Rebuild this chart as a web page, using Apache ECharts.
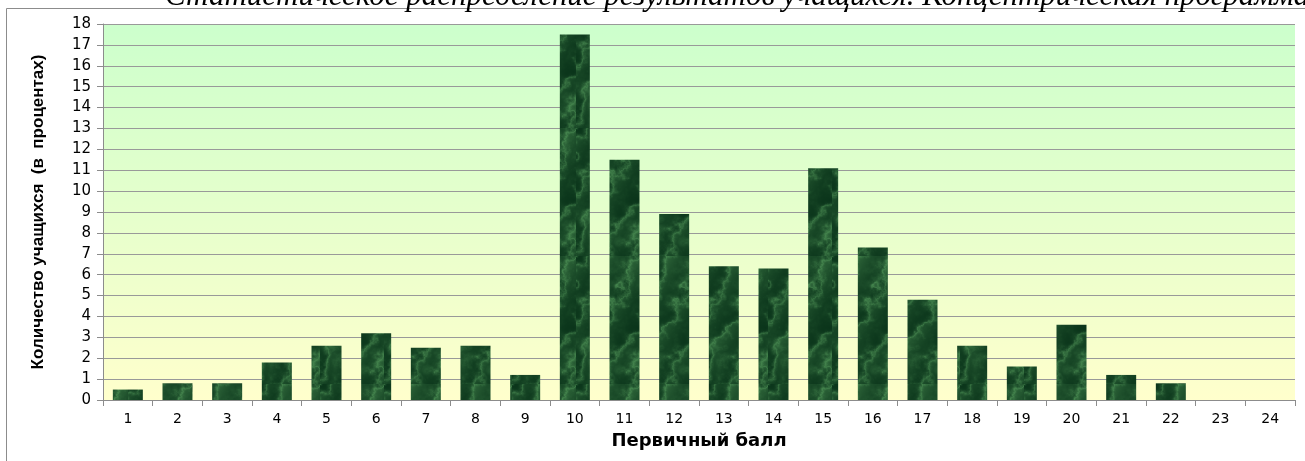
<!DOCTYPE html>
<html>
<head>
<meta charset="utf-8">
<script src="https://cdn.jsdelivr.net/npm/echarts@6/dist/echarts.min.js"></script>
<style>
  html, body { margin: 0; padding: 0; background: #fff; }
  #chart { width: 1305px; height: 461px; }
</style>
</head>
<body>
<div id="chart"></div>
<script>
// primary score categories and share of students (percent)
const scores = ['1','2','3','4','5','6','7','8','9','10','11','12','13','14','15','16','17','18','19','20','21','22','23','24'];
const percents = [0.5, 0.8, 0.8, 1.8, 2.6, 3.2, 2.5, 2.6, 1.2, 17.5, 11.5, 8.9, 6.4, 6.3, 11.1, 7.3, 4.8, 2.6, 1.6, 3.6, 1.2, 0.8, 0, 0];
const titleText = 'Статистическое распределение результатов учащихся. Концентрическая программа';

// marble-like texture for the bars (deterministic value noise)
function hash(x, y) {
  const s = Math.sin(x * 127.1 + y * 311.7) * 43758.5453;
  return s - Math.floor(s);
}
function noise(x, y) {
  const xi = Math.floor(x), yi = Math.floor(y);
  const xf = x - xi, yf = y - yi;
  const u = xf * xf * (3 - 2 * xf), v = yf * yf * (3 - 2 * yf);
  const a = hash(xi, yi), b = hash(xi + 1, yi), c = hash(xi, yi + 1), d = hash(xi + 1, yi + 1);
  return a + (b - a) * u + (c - a) * v + (a - b - c + d) * u * v;
}
function marble() {
  const w = 64, h = 128;
  const c = document.createElement('canvas');
  c.width = w; c.height = h;
  const ctx = c.getContext('2d');
  const img = ctx.createImageData(w, h);
  for (let y = 0; y < h; y++) {
    for (let x = 0; x < w; x++) {
      let n = 0, amp = 1, f = 0.07;
      for (let o = 0; o < 5; o++) { n += amp * noise(x * f, y * f); amp *= 0.5; f *= 2; }
      n /= 1.94;
      const vein = Math.abs(Math.sin(x * 0.1 + y * 0.06 + n * 5.0));
      const t = Math.pow(1 - vein, 2) * 0.45 + Math.pow(n, 2) * 0.5;
      const i = (y * w + x) * 4;
      img.data[i] = 10 + t * 80;
      img.data[i + 1] = 52 + t * 110;
      img.data[i + 2] = 26 + t * 70;
      img.data[i + 3] = 255;
    }
  }
  ctx.putImageData(img, 0, 0);
  return c;
}

const chart = echarts.init(document.getElementById('chart'));
const option = {
  backgroundColor: '#fff',
  animation: false,
  graphic: [
    {
      type: 'rect',
      shape: { x: 6.5, y: 8.5, width: 1320, height: 470 },
      style: { fill: 'none', stroke: '#8c8c8c', lineWidth: 1 },
      z: 0
    },
    {
      type: 'text',
      x: 165, y: -19,
      style: {
        text: titleText,
        font: 'italic 31px "Liberation Serif", serif',
        fill: '#000'
      }
    }
  ],
  grid: {
    left: 103, right: 10, top: 24, bottom: 61,
    show: true,
    borderWidth: 0,
    backgroundColor: new echarts.graphic.LinearGradient(0, 0, 0, 1, [
      { offset: 0, color: '#ccffcc' },
      { offset: 1, color: '#ffffcc' }
    ])
  },
  xAxis: {
    type: 'category',
    data: scores,
    name: 'Первичный балл',
    nameLocation: 'middle',
    nameGap: 32,
    nameTextStyle: { fontFamily: 'DejaVu Sans', fontWeight: 'bold', fontSize: 18, color: '#000' },
    axisLine: { lineStyle: { color: '#8c8c8c' } },
    axisTick: { show: true, length: 6, lineStyle: { color: '#8c8c8c' } },
    axisLabel: { fontFamily: 'DejaVu Sans', fontSize: 14, color: '#000', margin: 12 }
  },
  yAxis: {
    type: 'value',
    min: 0, max: 18, interval: 1,
    name: 'Количество учащихся  (в  процентах)',
    nameLocation: 'middle',
    nameGap: 56,
    nameRotate: 90,
    nameTextStyle: { fontFamily: '"Liberation Sans Narrow", "Liberation Sans", Arial', fontWeight: 'bold', fontSize: 17, color: '#000' },
    axisLine: { show: true, lineStyle: { color: '#8c8c8c' } },
    axisTick: { show: true, length: 6, lineStyle: { color: '#8c8c8c' } },
    axisLabel: { fontFamily: 'DejaVu Sans', fontSize: 15, color: '#000', margin: 12 },
    splitLine: { lineStyle: { color: '#999', width: 1 } }
  },
  series: [
    {
      type: 'bar',
      data: percents,
      barWidth: 30,
      itemStyle: {
        color: { image: marble(), repeat: 'repeat' }
      }
    }
  ]
};
chart.setOption(option);
</script>
</body>
</html>
